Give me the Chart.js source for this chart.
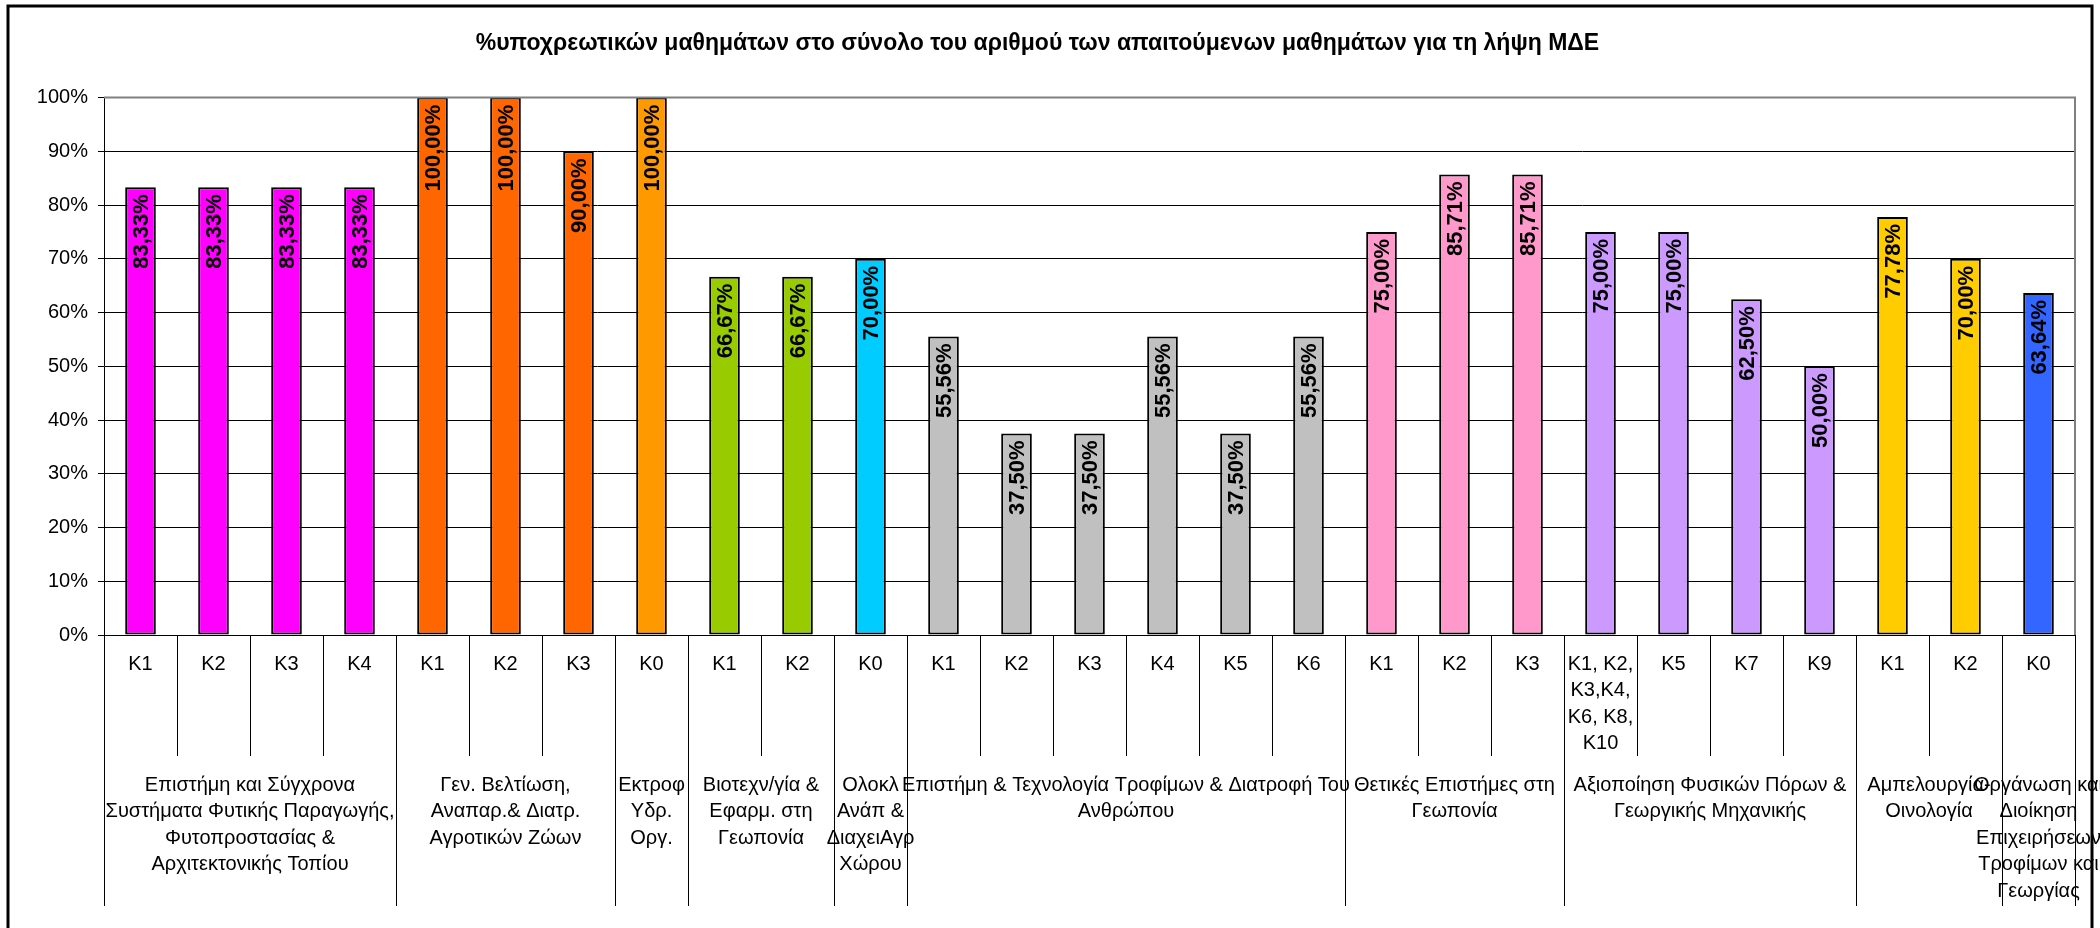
<!DOCTYPE html>
<html>
<head>
<meta charset="utf-8">
<script src="https://cdn.jsdelivr.net/npm/chart.js@4.4.1/dist/chart.umd.min.js"></script>
<style>
  html, body { margin: 0; padding: 0; background: #ffffff; }
  #chart { display: block; }
</style>
</head>
<body>
<canvas id="chart" width="2100" height="928"></canvas>
<script>
const titleText = "%υποχρεωτικών μαθημάτων στο σύνολο του αριθμού των απαιτούμενων μαθημάτων για τη λήψη ΜΔΕ";

const tickLabels = [
  "K1", "K2", "K3", "K4",
  "K1", "K2", "K3",
  "K0",
  "K1", "K2",
  "K0",
  "K1", "K2", "K3", "K4", "K5", "K6",
  "K1", "K2", "K3",
  ["K1, K2,", "K3,K4,", "K6, K8,", "K10"], "K5", "K7", "K9",
  "K1", "K2",
  "K0",
];

const values = [
  83.33, 83.33, 83.33, 83.33,
  100, 100, 90,
  100,
  66.67, 66.67,
  70,
  55.56, 37.5, 37.5, 55.56, 37.5, 55.56,
  75, 85.71, 85.71,
  75, 75, 62.5, 50,
  77.78, 70,
  63.64,
];

const groupSizes = [4, 3, 1, 2, 1, 6, 3, 4, 2, 1];

const groupNames = [
  ["Επιστήμη και Σύγχρονα", "Συστήματα Φυτικής Παραγωγής,", "Φυτοπροστασίας &", "Αρχιτεκτονικής Τοπίου"],
  ["Γεν. Βελτίωση,", "Αναπαρ.& Διατρ.", "Αγροτικών Ζώων"],
  ["Εκτροφ", "Υδρ.", "Οργ."],
  ["Βιοτεχν/γία &", "Εφαρμ. στη", "Γεωπονία"],
  ["Ολοκλ", "Ανάπ &", "ΔιαχειΑγρ", "Χώρου"],
  ["Επιστήμη & Τεχνολογία Τροφίμων & Διατροφή Του", "Ανθρώπου"],
  ["Θετικές Επιστήμες στη", "Γεωπονία"],
  ["Αξιοποίηση Φυσικών Πόρων &", "Γεωργικής Μηχανικής"],
  ["Αμπελουργία-", "Οινολογία"],
  ["Οργάνωση και", "Διοίκηση", "Επιχειρήσεων", "Τροφίμων και", "Γεωργίας"],
];

const groupColors = [
  "#FF00FF", "#FF6600", "#FF9900", "#99CC00", "#00CCFF",
  "#C0C0C0", "#FF99CC", "#CC99FF", "#FFCC00", "#3366FF",
];

const FONT = "'Liberation Sans', Arial, sans-serif";

function barColors() {
  const colors = [];
  groupSizes.forEach((size, g) => {
    for (let i = 0; i < size; i++) colors.push(groupColors[g]);
  });
  return colors;
}

function formatPercent(v) {
  return v.toFixed(2).replace(".", ",") + "%";
}

// frame around the whole chart, plus grey plot-area border
const framePlugin = {
  id: "frame",
  afterDraw(chart) {
    const ctx = chart.ctx;
    const area = chart.chartArea;
    ctx.save();
    ctx.strokeStyle = "#808080";
    ctx.lineWidth = 2;
    ctx.beginPath();
    ctx.moveTo(area.left, area.top);
    ctx.lineTo(area.right, area.top);
    ctx.lineTo(area.right, area.bottom);
    ctx.stroke();
    ctx.strokeStyle = "#000000";
    ctx.lineWidth = 3;
    ctx.strokeRect(8, 6, 2084, 940);
    ctx.restore();
  },
};

// rotated value labels inside the top of each bar
const valueLabelPlugin = {
  id: "valueLabels",
  afterDatasetsDraw(chart) {
    const ctx = chart.ctx;
    const meta = chart.getDatasetMeta(0);
    ctx.save();
    ctx.font = "bold 22px " + FONT;
    ctx.fillStyle = "#000000";
    ctx.textAlign = "right";
    ctx.textBaseline = "middle";
    meta.data.forEach((bar, i) => {
      ctx.save();
      ctx.translate(bar.x + 1, bar.y + 7);
      ctx.rotate(-Math.PI / 2);
      ctx.fillText(formatPercent(values[i]), 0, 0);
      ctx.restore();
    });
    ctx.restore();
  },
};

// two-level category axis: K labels, group names and separators
const groupAxisPlugin = {
  id: "groupAxis",
  afterDraw(chart) {
    const ctx = chart.ctx;
    const x = chart.scales.x;
    const bottom = chart.chartArea.bottom;
    const step = x.getPixelForValue(1) - x.getPixelForValue(0);
    const edge = (i) => x.getPixelForValue(i) - step / 2;

    ctx.save();
    ctx.strokeStyle = "#000000";
    ctx.lineWidth = 1;

    const groupStarts = [0];
    groupSizes.forEach((s) => groupStarts.push(groupStarts[groupStarts.length - 1] + s));

    for (let i = 0; i <= tickLabels.length; i++) {
      const px = Math.round(edge(i)) + 0.5;
      const isGroup = groupStarts.includes(i);
      ctx.beginPath();
      ctx.moveTo(px, bottom);
      ctx.lineTo(px, bottom + (isGroup ? 271 : 121));
      ctx.stroke();
    }

    ctx.fillStyle = "#000000";
    ctx.font = "20px " + FONT;
    ctx.textAlign = "center";
    ctx.textBaseline = "middle";

    tickLabels.forEach((label, i) => {
      const lines = Array.isArray(label) ? label : [label];
      lines.forEach((line, k) => {
        ctx.fillText(line, x.getPixelForValue(i), bottom + 29 + k * 26.5);
      });
    });

    groupNames.forEach((lines, g) => {
      const cx = (edge(groupStarts[g]) + edge(groupStarts[g + 1])) / 2;
      lines.forEach((line, k) => {
        ctx.fillText(line, cx, bottom + 150 + k * 26.5);
      });
    });
    ctx.restore();
  },
};

new Chart(document.getElementById("chart"), {
  type: "bar",
  data: {
    labels: tickLabels,
    datasets: [
      {
        data: values,
        backgroundColor: barColors(),
        borderColor: "#000000",
        borderWidth: 2,
        borderSkipped: false,
        barPercentage: 0.42,
        categoryPercentage: 1,
      },
    ],
  },
  options: {
    responsive: false,
    animation: false,
    devicePixelRatio: 1,
    layout: { padding: { left: 0, right: 25, top: 0, bottom: 0 } },
    plugins: {
      legend: { display: false },
      tooltip: { enabled: false },
      title: {
        display: true,
        text: titleText,
        color: "#000000",
        font: { family: FONT, size: 23, weight: "bold" },
        padding: { top: 30, bottom: 40 },
      },
    },
    scales: {
      x: {
        ticks: { display: false },
        grid: { display: false },
        border: { color: "#000000", width: 1 },
        afterFit(scale) {
          scale.height = 293;
        },
      },
      y: {
        min: 0,
        max: 100,
        ticks: {
          stepSize: 10,
          color: "#000000",
          padding: 10,
          font: { family: FONT, size: 20 },
          callback: (v) => v + "%",
        },
        grid: { color: "#000000", lineWidth: 1, tickLength: 6 },
        border: { color: "#000000", width: 1 },
        afterFit(scale) {
          scale.width = 104;
        },
      },
    },
  },
  plugins: [valueLabelPlugin, groupAxisPlugin, framePlugin],
});
</script>
</body>
</html>
